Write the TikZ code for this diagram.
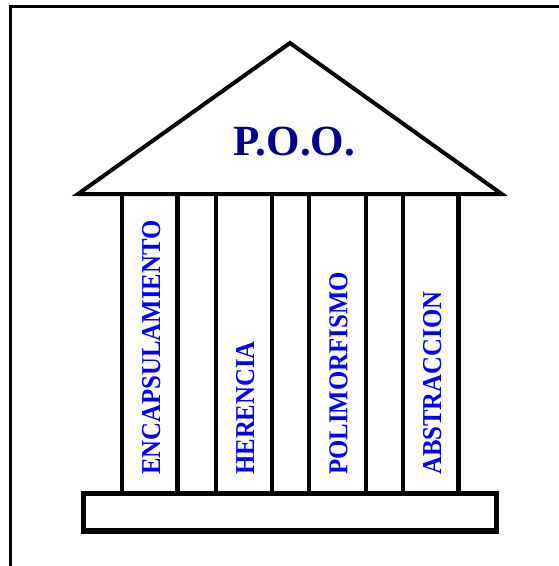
\documentclass[tikz,border=0pt]{standalone}
\usepackage{fontspec}
\setmainfont{Liberation Serif}
\definecolor{navytext}{RGB}{0,0,140}
\definecolor{coltext}{RGB}{0,0,255}
\begin{document}
\begin{tikzpicture}[x=1pt,y=-1pt,
  frameline/.style={line width=3.2pt},
  roofline/.style={line width=4pt,line join=miter},
  colline/.style={line width=4.4pt},
  baseline/.style={line width=5.2pt},
  coltxt/.style={rotate=90,anchor=base west,inner sep=0pt,text=coltext,
    font=\fontsize{24.8}{28}\selectfont\bfseries}]
\useasboundingbox (0,0) rectangle (558,566);
\fill[white] (0,0) rectangle (558,566);
% frame
\draw[frameline] (570,6.5) -- (10.5,6.5) -- (10.5,580);
% roof
\draw[roofline] (78,194) -- (290,43) -- (501.7,194) -- cycle;
\node[anchor=base,inner sep=0pt,text=navytext,font=\fontsize{43}{48}\selectfont\bfseries] (poo) at (294.2,155) {P.O.O.};
% columns
\foreach \x in {121.7,177.3,215.7,272,309,365.7,403,458.3}
  \draw[colline] (\x,194) -- (\x,493.5);
% base
\draw[baseline] (83.5,493.5) rectangle (496.5,531);
% column labels
\node[coltxt] (enc) at (160,475) {\scalebox{1}[1.1]{ENCAPSULAMIENTO}};
\node[coltxt] (her) at (254,475) {\scalebox{1}[1.1]{HERENCIA}};
\node[coltxt] (pol) at (347.3,475) {\scalebox{1}[1.1]{POLIMORFISMO}};
\node[coltxt] (abs) at (441,475) {\scalebox{1}[1.1]{ABSTRACCION}};
\end{tikzpicture}
\end{document}
